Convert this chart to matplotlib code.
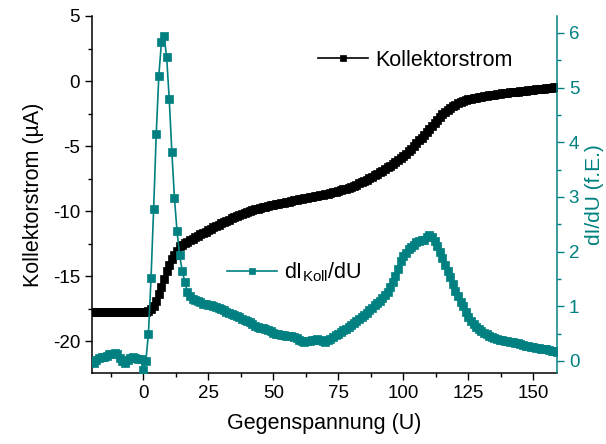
import numpy as np
import matplotlib.pyplot as plt
from matplotlib.ticker import MultipleLocator

plt.rcParams['font.family'] = ['Liberation Sans', 'DejaVu Sans']
plt.rcParams['mathtext.fontset'] = 'custom'
plt.rcParams['mathtext.rm'] = 'Liberation Sans'
plt.rcParams['mathtext.it'] = 'Liberation Sans:italic'
plt.rcParams['axes.unicode_minus'] = False

TEAL = '#008080'

# Gegenspannung in V, Messung in 1-V-Schritten
spannung = np.arange(-20, 160)

# Kollektorstrom in µA
strom = [
    -17.80, -17.80, -17.79, -17.79, -17.78, -17.78, -17.78, -17.77, -17.77, -17.77,
    -17.76, -17.76, -17.76, -17.75, -17.75, -17.75, -17.75, -17.74, -17.74, -17.74,
    -17.74, -17.73, -17.70, -17.55, -17.30, -16.90, -16.40, -15.82, -15.22, -14.65,
    -14.15, -13.72, -13.38, -13.10, -12.72, -12.60, -12.48, -12.36, -12.24, -12.13,
    -12.02, -11.91, -11.80, -11.69, -11.58, -11.47, -11.36, -11.26, -11.15, -11.05,
    -10.95, -10.85, -10.76, -10.66, -10.57, -10.48, -10.39, -10.31, -10.23, -10.15,
    -10.08, -10.01, -9.94, -9.88, -9.82, -9.76, -9.71, -9.66, -9.61, -9.56,
    -9.51, -9.47, -9.43, -9.39, -9.35, -9.31, -9.27, -9.23, -9.19, -9.15,
    -9.11, -9.07, -9.03, -8.99, -8.95, -8.91, -8.87, -8.83, -8.79, -8.75,
    -8.71, -8.66, -8.61, -8.56, -8.51, -8.46, -8.40, -8.34, -8.27, -8.20,
    -8.13, -8.05, -7.97, -7.88, -7.79, -7.69, -7.58, -7.47, -7.36, -7.25,
    -7.13, -7.01, -6.89, -6.76, -6.63, -6.50, -6.37, -6.23, -6.09, -5.94,
    -5.77, -5.59, -5.40, -5.20, -5.00, -4.79, -4.57, -4.35, -4.12, -3.89,
    -3.66, -3.43, -3.20, -2.98, -2.77, -2.57, -2.39, -2.22, -2.07, -1.94,
    -1.82, -1.72, -1.63, -1.55, -1.48, -1.42, -1.37, -1.32, -1.28, -1.24,
    -1.20, -1.17, -1.14, -1.11, -1.08, -1.05, -1.02, -0.99, -0.96, -0.93,
    -0.91, -0.88, -0.86, -0.83, -0.81, -0.79, -0.76, -0.74, -0.72, -0.70,
    -0.67, -0.65, -0.63, -0.60, -0.58, -0.55, -0.53, -0.50, -0.48, -0.45,
]

# Ableitung dI/dU in freien Einheiten
ableitung = [
    0.00, -0.03, 0.02, 0.05, 0.07, 0.08, 0.10, 0.12, 0.13, 0.14,
    0.12, 0.06, 0.00, -0.04, 0.02, 0.06, 0.08, 0.06, 0.04, 0.03,
    -0.17, 0.00, 0.50, 1.52, 2.78, 4.15, 5.22, 5.83, 5.95, 5.56,
    4.79, 3.83, 2.98, 2.37, 1.93, 1.65, 1.44, 1.27, 1.18, 1.14,
    1.12, 1.10, 1.08, 1.05, 1.04, 1.02, 1.03, 1.00, 0.98, 0.96,
    0.95, 0.93, 0.90, 0.88, 0.86, 0.84, 0.82, 0.80, 0.77, 0.75,
    0.73, 0.71, 0.68, 0.64, 0.62, 0.61, 0.60, 0.58, 0.57, 0.55,
    0.52, 0.50, 0.49, 0.48, 0.47, 0.46, 0.46, 0.45, 0.44, 0.42,
    0.39, 0.37, 0.35, 0.36, 0.37, 0.38, 0.39, 0.40, 0.39, 0.37,
    0.35, 0.38, 0.41, 0.44, 0.47, 0.50, 0.53, 0.56, 0.59, 0.62,
    0.65, 0.69, 0.73, 0.77, 0.80, 0.84, 0.88, 0.93, 0.97, 1.02,
    1.06, 1.10, 1.15, 1.20, 1.27, 1.35, 1.44, 1.55, 1.68, 1.82,
    1.92, 1.98, 2.04, 2.09, 2.13, 2.17, 2.20, 2.21, 2.22, 2.26,
    2.31, 2.27, 2.19, 2.11, 2.00, 1.88, 1.76, 1.64, 1.53, 1.40,
    1.28, 1.18, 1.08, 1.00, 0.90, 0.80, 0.73, 0.67, 0.62, 0.58,
    0.55, 0.52, 0.49, 0.46, 0.44, 0.42, 0.41, 0.39, 0.38, 0.37,
    0.36, 0.35, 0.34, 0.33, 0.32, 0.31, 0.30, 0.28, 0.27, 0.26,
    0.25, 0.24, 0.23, 0.22, 0.22, 0.21, 0.20, 0.19, 0.18, 0.17,
]

fig = plt.figure(figsize=(6.06, 4.44), dpi=100)
ax = fig.add_axes([92 / 606, 1 - 373 / 444, (557 - 92) / 606, (373 - 16) / 444])
ax2 = ax.twinx()

l1, = ax.plot(spannung, strom, color='black', lw=1.2, marker='s', ms=5.5,
              mec='black', mew=0.5, label='Kollektorstrom')
l2, = ax2.plot(spannung, ableitung, color=TEAL, lw=1.2, marker='s', ms=5.8,
               mec=TEAL, mew=0.5, label=r'dI$_{\mathrm{Koll}}$/dU')

ax.set_xlim(-19.7, 159.1)
ax.set_ylim(-22.46, 5.0)
ax2.set_ylim(-0.22, 6.31)

ax.xaxis.set_major_locator(MultipleLocator(25))
ax.xaxis.set_minor_locator(MultipleLocator(12.5))
ax.yaxis.set_major_locator(MultipleLocator(5))
ax.yaxis.set_minor_locator(MultipleLocator(2.5))
ax2.yaxis.set_major_locator(MultipleLocator(1))
ax2.yaxis.set_minor_locator(MultipleLocator(0.5))

for a in (ax, ax2):
    a.spines['top'].set_visible(False)
    a.tick_params(which='major', direction='out', length=5, width=1, labelsize=13.5)
    a.tick_params(which='minor', direction='out', length=3, width=1)
ax.spines['right'].set_visible(False)
ax.spines['left'].set_linewidth(1.1)
ax.spines['bottom'].set_linewidth(1.1)
ax2.spines['left'].set_visible(False)
ax2.spines['bottom'].set_visible(False)
ax2.spines['right'].set_color(TEAL)
ax2.spines['right'].set_linewidth(1.1)
ax2.tick_params(axis='y', which='both', colors=TEAL)

ax.set_xlabel('Gegenspannung (U)', fontsize=15.5, labelpad=8)
ax.set_ylabel('Kollektorstrom (µA)', fontsize=15.5, labelpad=6)
ax2.set_ylabel('dI/dU (f.E.)', fontsize=15, color=TEAL, labelpad=4)

leg1 = fig.legend(handles=[l1], loc='center left', bbox_to_anchor=(318 / 606, 1 - 60 / 444),
                  frameon=False, fontsize=15.5, handlelength=2.3, handletextpad=0.35,
                  borderpad=0, borderaxespad=0, markerscale=0.7)
leg2 = fig.legend(handles=[l2], loc='center left', bbox_to_anchor=(227 / 606, 1 - 272 / 444),
                  frameon=False, fontsize=15.5, handlelength=2.3, handletextpad=0.35,
                  borderpad=0, borderaxespad=0, markerscale=0.8)

fig.savefig('out.png', dpi=100)
